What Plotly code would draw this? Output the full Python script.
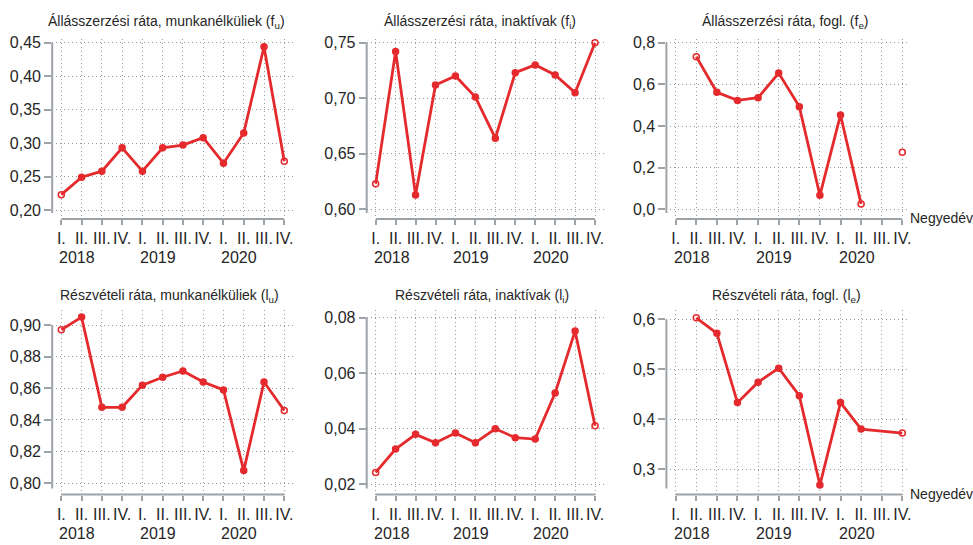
import plotly.graph_objects as go

# ---------------- data ----------------
quarters = ["I.", "II.", "III.", "IV."] * 3
cat_idx = list(range(12))
years = ["2018", "2019", "2020"]
year_pos = [0, 4, 8]

f_u = [0.223, 0.249, 0.258, 0.293, 0.258, 0.293, 0.297, 0.308, 0.270, 0.315, 0.444, 0.273]
f_i = [0.623, 0.742, 0.613, 0.712, 0.720, 0.701, 0.664, 0.723, 0.730, 0.721, 0.705, 0.750]
f_e = [None, 0.733, 0.562, 0.523, 0.536, 0.654, 0.493, 0.067, 0.453, 0.026, None, 0.274]
l_u = [0.897, 0.905, 0.848, 0.848, 0.862, 0.867, 0.871, 0.864, 0.859, 0.808, 0.864, 0.846]
l_i = [0.0243, 0.0327, 0.0380, 0.0350, 0.0385, 0.0350, 0.0400, 0.0368, 0.0363, 0.0529, 0.0752, 0.0411]
l_e = [None, 0.603, 0.572, 0.433, 0.474, 0.502, 0.447, 0.268, 0.433, 0.380, None, 0.372]

titles = [
    "Állásszerzési ráta, munkanélküliek (f<sub>u</sub>)",
    "Állásszerzési ráta, inaktívak (f<sub>i</sub>)",
    "Állásszerzési ráta, fogl. (f<sub>e</sub>)",
    "Részvételi ráta, munkanélküliek (l<sub>u</sub>)",
    "Részvételi ráta, inaktívak (l<sub>i</sub>)",
    "Részvételi ráta, fogl. (l<sub>e</sub>)",
]
yticks_fu = [0.20, 0.25, 0.30, 0.35, 0.40, 0.45]
yticks_fi = [0.60, 0.65, 0.70, 0.75]
yticks_fe = [0.0, 0.2, 0.4, 0.6, 0.8]
yticks_lu = [0.80, 0.82, 0.84, 0.86, 0.88, 0.90]
yticks_li = [0.02, 0.04, 0.06, 0.08]
yticks_le = [0.3, 0.4, 0.5, 0.6]
x_axis_label = "Negyedév"

# ---------------- style / layout ----------------
W, H = 973, 545
RED = "#e52a2e"
GREY = "#9ea3a8"
GRID = "#9a9a9a"
GRID_DASH = "1px,3px"
TXT = "#262626"
FONT = "Liberation Sans, Arial, sans-serif"
TICK_SIZE = 16
TITLE_SIZE = 14

cols = [(52.2, 293.4, 11.45), (366.7, 604.0, 11.45), (666.4, 908.5, 11.3)]
rows = [(39.0, 219.0), (310.0, 494.5)]

panels = [
    dict(data=f_u, ticks=yticks_fu, fmt=".2f", rng=[0.1866, 0.4555], row=0, col=0, gaps=False, title_x=166.5),
    dict(data=f_i, ticks=yticks_fi, fmt=".2f", rng=[0.5913, 0.7533], row=0, col=1, gaps=False, title_x=480),
    dict(data=f_e, ticks=yticks_fe, fmt=".1f", rng=[-0.0466, 0.8178], row=0, col=2, gaps=False, title_x=785),
    dict(data=l_u, ticks=yticks_lu, fmt=".2f", rng=[0.7929, 0.9095], row=1, col=0, gaps=False, title_x=169),
    dict(data=l_i, ticks=yticks_li, fmt=".2f", rng=[0.01633, 0.0828], row=1, col=1, gaps=False, title_x=481.7),
    dict(data=l_e, ticks=yticks_le, fmt=".1f", rng=[0.2489, 0.6186], row=1, col=2, gaps=True, title_x=786),
]
title_y = [22.0, 296.0]


def marker_fill(vals, gaps):
    """white (hollow) marker at the ends of each drawn line segment, red inside"""
    idx = [i for i, v in enumerate(vals) if v is not None]
    out = [RED] * len(vals)
    for i in idx:
        if gaps:
            end = (i == idx[0]) or (i == idx[-1])
        else:
            prev_ok = i - 1 >= 0 and vals[i - 1] is not None
            next_ok = i + 1 < len(vals) and vals[i + 1] is not None
            end = not (prev_ok and next_ok)
        if end:
            out[i] = "white"
    return out


fig = go.Figure()
shapes = []
annotations = []
layout_axes = {}
tick_font = dict(size=TICK_SIZE, color=TXT, family=FONT)

for k, p in enumerate(panels, start=1):
    xs = "" if k == 1 else str(k)
    xa, ya = "x" + xs, "y" + xs
    left, right, xmax = cols[p["col"]]
    top, bottom = rows[p["row"]]

    fig.add_trace(go.Scatter(
        x=cat_idx, y=p["data"], mode="markers", xaxis=xa, yaxis=ya,
        marker=dict(size=6, color=marker_fill(p["data"], p["gaps"]),
                    line=dict(color=RED, width=1.5)),
        cliponaxis=False, showlegend=False, hoverinfo="skip"))
    fig.add_trace(go.Scatter(
        x=cat_idx, y=p["data"], mode="lines", xaxis=xa, yaxis=ya,
        line=dict(color=RED, width=2.8), connectgaps=p["gaps"],
        cliponaxis=False, showlegend=False))

    layout_axes["xaxis" + xs] = dict(
        domain=[left / W, right / W], anchor=ya, range=[-0.45, xmax],
        tickvals=cat_idx, ticktext=quarters, tickangle=0, ticks="outside", ticklen=5,
        tickwidth=2, tickcolor=GREY, showgrid=True, gridcolor=GRID,
        griddash=GRID_DASH, gridwidth=1, zeroline=False, showline=False,
        automargin=False, tickfont=tick_font, fixedrange=True)
    layout_axes["yaxis" + xs] = dict(
        domain=[1 - bottom / H, 1 - top / H], anchor=xa, range=p["rng"],
        tickvals=p["ticks"], tickformat=p["fmt"], ticks="outside", ticklen=7,
        tickwidth=2, tickcolor=GREY, showgrid=True, gridcolor=GRID,
        griddash=GRID_DASH, gridwidth=1, zeroline=False, showline=False,
        automargin=False, tickfont=tick_font, fixedrange=True)

    # axis lines
    lo, hi = p["rng"]
    ppu = (bottom - top) / (hi - lo)
    shapes.append(dict(type="line", xref=xa + " domain", yref=ya,
                       x0=0, x1=0, y0=lo + 6 / ppu, y1=p["ticks"][-1],
                       line=dict(color=GREY, width=2), layer="above"))
    shapes.append(dict(type="line", xref=xa, yref=ya + " domain",
                       x0=cat_idx[0], x1=cat_idx[-1], y0=0, y1=0,
                       line=dict(color=GREY, width=2), layer="above"))

    # year labels
    for yr, pos in zip(years, year_pos):
        annotations.append(dict(text=yr, x=pos, y=0, xref=xa, yref=ya + " domain",
                                xanchor="left", yanchor="top", xshift=-4, yshift=-28,
                                showarrow=False, font=tick_font))
    # title
    annotations.append(dict(text=titles[k - 1], x=p["title_x"] / W, y=1 - title_y[p["row"]] / H,
                            xref="paper", yref="paper", xanchor="center", yanchor="middle",
                            showarrow=False, font=dict(size=TITLE_SIZE, color=TXT, family=FONT)))
    if p["col"] == 2:
        annotations.append(dict(text=x_axis_label, x=1, y=0, xref=xa + " domain", yref=ya + " domain",
                                xanchor="left", yanchor="middle", xshift=-1, yshift=1,
                                showarrow=False, font=dict(size=14, color=TXT, family=FONT)))

fig.update_layout(
    width=W, height=H, margin=dict(l=0, r=0, t=0, b=0, autoexpand=False),
    paper_bgcolor="white", plot_bgcolor="white",
    separators=", ", font=dict(family=FONT, size=TICK_SIZE, color=TXT),
    shapes=shapes, annotations=annotations, showlegend=False,
    **layout_axes)

fig.write_html(
    "out.html",
    config={"displayModeBar": False},
    post_script="document.body.style.margin='0';document.body.style.overflow='hidden';",
)
